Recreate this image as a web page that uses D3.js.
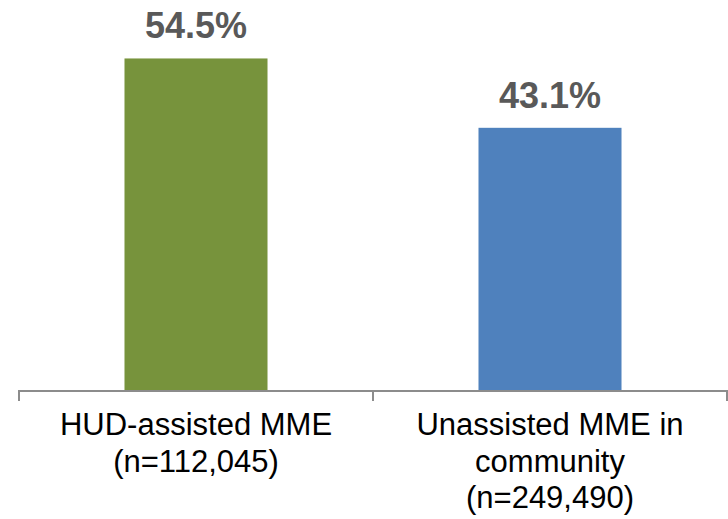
<!DOCTYPE html>
<html>
<head>
<meta charset="utf-8">
<script src="https://cdn.jsdelivr.net/npm/d3@7"></script>
<style>
  body { margin: 0; background: #fff; }
  text { font-family: "Liberation Sans", Arial, sans-serif; }
</style>
</head>
<body>
<div class="chart"></div>
<script>
let categories = [["HUD-assisted MME", "(n=112,045)"], ["Unassisted MME in", "community", "(n=249,490)"]];
let values = [54.5, 43.1];
let valueLabels = ["54.5%", "43.1%"];
let barColors = ["#77933C", "#4F81BD"];

let svgWidth = 728;
let svgHeight = 519;

let svg = d3.select(".chart")
  .append("svg")
  .attr("width", svgWidth)
  .attr("height", svgHeight);

let xScale = d3.scaleBand()
  .domain(d3.range(values.length))
  .range([19, 727])
  .paddingInner(0.596)
  .paddingOuter(0.298);

let yScale = d3.scaleLinear()
  .domain([0, 60])
  .range([390, 25]);

// bars
svg.selectAll("rect.bar")
  .data(values)
  .enter()
  .append("rect")
  .attr("class", "bar")
  .attr("x", (d, i) => xScale(i))
  .attr("y", d => yScale(d))
  .attr("width", xScale.bandwidth())
  .attr("height", d => yScale(0) - yScale(d))
  .attr("fill", (d, i) => barColors[i]);

// value labels
svg.selectAll("text.value")
  .data(values)
  .enter()
  .append("text")
  .attr("class", "value")
  .attr("x", (d, i) => xScale(i) + xScale.bandwidth() / 2)
  .attr("y", d => yScale(d) - 20)
  .attr("text-anchor", "middle")
  .attr("font-size", "36px")
  .attr("font-weight", "bold")
  .attr("fill", "#595959")
  .text((d, i) => valueLabels[i]);

// axis line and ticks at band edges
let step = xScale.step();
let x0 = xScale.range()[0];
let edges = d3.range(values.length + 1).map(i => x0 + i * step);

svg.append("line")
  .attr("x1", x0)
  .attr("x2", xScale.range()[1])
  .attr("y1", yScale(0) + 1)
  .attr("y2", yScale(0) + 1)
  .attr("stroke", "#8c8c8c")
  .attr("stroke-width", 2);

svg.selectAll("line.tick")
  .data(edges)
  .enter()
  .append("line")
  .attr("class", "tick")
  .attr("x1", d => d)
  .attr("x2", d => d)
  .attr("y1", yScale(0))
  .attr("y2", yScale(0) + 11)
  .attr("stroke", "#8c8c8c")
  .attr("stroke-width", 2);

// category labels
let catLabels = svg.selectAll("text.cat")
  .data(categories)
  .enter()
  .append("text")
  .attr("class", "cat")
  .attr("text-anchor", "middle")
  .attr("font-size", "31px")
  .attr("fill", "#000");

catLabels.each(function(lines, i) {
  let cx = xScale(i) + xScale.bandwidth() / 2;
  d3.select(this).selectAll("tspan")
    .data(lines)
    .enter()
    .append("tspan")
    .attr("x", cx)
    .attr("y", (d, j) => 435 + j * 36.5)
    .text(d => d);
});
</script>
</body>
</html>
